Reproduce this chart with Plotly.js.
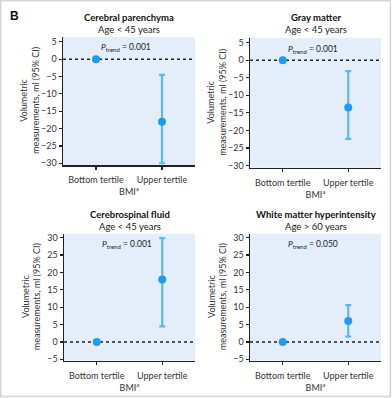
<!DOCTYPE html>
<html>
<head>
<meta charset="utf-8">
<script src="https://cdn.plot.ly/plotly-3.0.1.min.js"></script>
<style>html,body{margin:0;padding:0;background:#fff}#chart{width:392px;height:398px}</style>
</head>
<body>
<div id="chart"></div>
<script>
const categories = ["Bottom tertile", "Upper tertile"];
const panelTitles = ["Cerebral parenchyma", "Gray matter", "Cerebrospinal fluid", "White matter hyperintensity"];
const panelSubtitles = ["Age < 45 years", "Age < 45 years", "Age < 45 years", "Age > 60 years"];
const pTrend = ["0.001", "0.001", "0.001", "0.050"];
const estimates = [[0, -18], [0, -13.5], [0, 18], [0, 6]];
const ciLower = [[0, -30], [0, -22.4], [0, 4.5], [0, 1.5]];
const ciUpper = [[0, -4.5], [0, -3.1], [0, 29.9], [0, 10.6]];
const yTicks = [[5, 0, -5, -10, -15, -20, -25, -30], [5, 0, -5, -10, -15, -20, -25, -30],
                [30, 25, 20, 15, 10, 5, 0, -5], [30, 25, 20, 15, 10, 5, 0, -5]];
const yRanges = [[-30.5, 6.4], [-30.6, 6.3], [-5.4, 31.15], [-5.4, 31.15]];

const W = 392, H = 398;
const boxes = [ // pixel boxes [left, right, top, bottom]
  [63, 195, 37, 165],
  [250, 381, 38, 167.7],
  [64, 195, 233.7, 360.7],
  [250, 381, 233.7, 360.7]
];
const FONT = "Lato, 'Open Sans', sans-serif";
const pointColor = "#1c9bf0";
const barColor = "#5cb8f4";

const traces = [];
const layout = {
  width: W, height: H,
  margin: {l: 0, r: 0, t: 0, b: 0},
  paper_bgcolor: "#ffffff",
  showlegend: false,
  font: {family: FONT, size: 9, color: "#333"},
  annotations: [],
  shapes: []
};

boxes.forEach((b, i) => {
  const n = i + 1;
  const xa = "xaxis" + (n === 1 ? "" : n), ya = "yaxis" + (n === 1 ? "" : n);
  const xr = "x" + (n === 1 ? "" : n), yr = "y" + (n === 1 ? "" : n);
  const est = estimates[i];
  traces.push({
    type: "scatter", mode: "markers",
    x: categories, y: est,
    xaxis: xr, yaxis: yr,
    marker: {color: pointColor, size: 8},
    error_y: {
      type: "data", symmetric: false,
      array: est.map((v, k) => ciUpper[i][k] - v),
      arrayminus: est.map((v, k) => v - ciLower[i][k]),
      color: barColor, thickness: 2.2, width: 3
    },
    hoverinfo: "skip"
  });
  layout[xa] = {
    domain: [b[0] / W, b[1] / W],
    anchor: yr, type: "category",
    range: [-0.5, 1.5],
    showline: true, linecolor: "#222", linewidth: 1.5,
    ticks: "outside", ticklen: 3, tickcolor: "#222", tickwidth: 1.2,
    ticklabelstandoff: 3,
    showgrid: false, zeroline: false,
    tickfont: {family: FONT, size: 9, color: "#333"},
    title: {text: "BMI<sup>a</sup>", font: {family: FONT, size: 9, color: "#333"}, standoff: 1}
  };
  layout[ya] = {
    domain: [1 - b[3] / H, 1 - b[2] / H],
    anchor: xr, range: yRanges[i],
    tickvals: yTicks[i],
    showline: true, linecolor: "#222", linewidth: 1.5,
    ticks: "outside", ticklen: 3, tickcolor: "#222", tickwidth: 1.2,
    showgrid: false, zeroline: false,
    tickfont: {family: FONT, size: 9, color: "#333"}
  };
  // background
  layout.shapes.push({type: "rect", xref: xr + " domain", yref: yr + " domain",
    x0: 0, x1: 1, y0: 0, y1: 1, fillcolor: "#e3eefa", line: {width: 0}, layer: "below"});
  // zero reference line
  layout.shapes.push({type: "line", xref: xr + " domain", yref: yr,
    x0: 0, x1: 1, y0: 0, y1: 0, line: {color: "#222", width: 1.5, dash: "3px,3px"}, layer: "below"});
  const cx = (b[0] + b[1]) / 2 / W;
  const dy = (i >= 2 ? 196 : 0);
  layout.annotations.push({xref: "paper", yref: "paper", x: cx, y: 1 - (18 + dy) / H,
    xanchor: "center", yanchor: "middle",
    text: "<b>" + panelTitles[i] + "</b>", showarrow: false, font: {family: FONT, size: 9.5, color: "#111"}});
  layout.annotations.push({xref: "paper", yref: "paper", x: cx, y: 1 - (30 + dy) / H,
    xanchor: "center", yanchor: "middle",
    text: panelSubtitles[i].replace("<", "&lt;").replace(">", "&gt;"), showarrow: false, font: {family: FONT, size: 9.5, color: "#222"}});
  layout.annotations.push({xref: xr, yref: yr + " domain", x: 0.46, y: 0.915,
    xanchor: "center", yanchor: "middle",
    text: "<i>P</i><sub>trend</sub> = " + pTrend[i], showarrow: false, font: {family: FONT, size: 8.5, color: "#222"}});
  // y-axis title
  layout.annotations.push({xref: "paper", yref: "paper", x: (b[0] - 33) / W, y: 1 - (b[2] + b[3]) / 2 / H,
    xanchor: "center", yanchor: "middle",
    text: "Volumetric<br>measurements, ml (95% CI)", textangle: -90, showarrow: false,
    font: {family: FONT, size: 9, color: "#333"}});
});

layout.annotations.push({xref: "paper", yref: "paper", x: 14 / W, y: 1 - 16 / H, text: "<b>B</b>",
  xanchor: "center", yanchor: "middle",
  showarrow: false, font: {family: "Liberation Sans, Arial, sans-serif", size: 12, color: "#111"}});
layout.shapes.push({type: "rect", xref: "paper", yref: "paper", x0: 0.002, x1: 0.996, y0: 0.004, y1: 0.998,
  line: {color: "#d4d4d4", width: 1.5}, fillcolor: "rgba(0,0,0,0)"});

Plotly.newPlot("chart", traces, layout, {staticPlot: true});
</script>
</body>
</html>
